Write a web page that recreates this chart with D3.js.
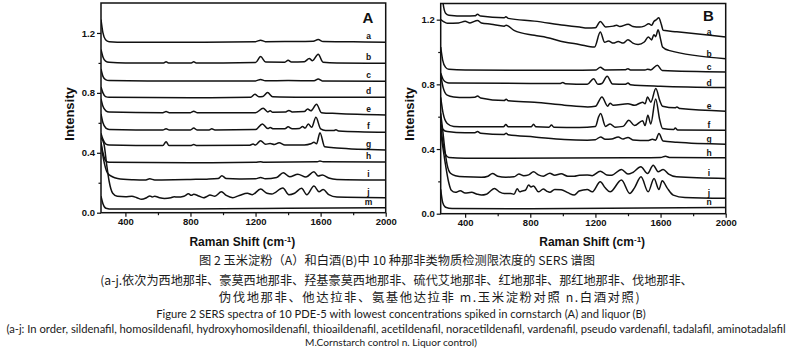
<!DOCTYPE html>
<html><head><meta charset="utf-8">
<script src="https://cdn.jsdelivr.net/npm/d3@7"></script>
<style>body{margin:0;background:#fff;} svg{display:block}</style>
</head><body><svg id="c" width="800" height="349"></svg>
<script>
// ---------- data ----------
const xTicks = [400, 800, 1200, 1600, 2000];
const xMinor = [600, 1000, 1400, 1800];
const yTicks = [0, 0.4, 0.8, 1.2];
const yMinor = [0.2, 0.6, 1.0];
const xDomain = [250, 2000];

const labelsA = ["a","b","c","d","e","f","g","h","i","j","m"];
const labelsB = ["a","b","c","d","e","f","g","h","i","j","n"];

const specA_a = [[250,1.29],[262,1.2],[278,1.155],[300,1.142],[400,1.138],[800,1.138],[1200,1.142],[1231,1.152],[1260,1.142],[1400,1.143],[1555,1.145],[1585,1.156],[1615,1.143],[1800,1.141],[2000,1.138]];
const specA_b = [[250,1.09],[262,1.04],[278,1.012],[300,1.004],[400,1.0],[635,1.0],[650,1.008],[665,1.0],[805,1.0],[820,1.007],[835,1.0],[1000,1.0],[1200,1.003],[1231,1.042],[1262,1.006],[1380,1.005],[1400,1.018],[1420,1.006],[1500,1.008],[1530,1.029],[1550,1.015],[1585,1.058],[1615,1.005],[1700,1.0],[2000,0.998]];
const specA_c = [[250,0.96],[262,0.91],[278,0.889],[300,0.882],[600,0.879],[1200,0.88],[1231,0.89],[1260,0.881],[1400,0.882],[1560,0.881],[1585,0.893],[1610,0.88],[2000,0.878]];
const specA_d = [[250,0.84],[262,0.80],[278,0.775],[300,0.77],[800,0.768],[1170,0.77],[1196,0.791],[1220,0.774],[1245,0.776],[1274,0.802],[1305,0.774],[1500,0.771],[2000,0.77]];
const specA_e = [[250,0.76],[262,0.71],[280,0.68],[300,0.672],[630,0.668],[650,0.675],[670,0.668],[800,0.668],[820,0.677],[840,0.668],[1200,0.668],[1247,0.697],[1275,0.673],[1290,0.68],[1305,0.671],[1385,0.672],[1405,0.683],[1425,0.672],[1500,0.675],[1520,0.693],[1540,0.68],[1575,0.724],[1605,0.668],[1700,0.662],[2000,0.653]];
const specA_f = [[250,0.66],[262,0.60],[280,0.565],[300,0.556],[630,0.552],[650,0.56],[670,0.552],[800,0.552],[820,0.565],[840,0.552],[915,0.552],[931,0.56],[950,0.552],[1200,0.555],[1242,0.593],[1275,0.562],[1290,0.568],[1310,0.56],[1380,0.56],[1400,0.573],[1425,0.56],[1470,0.562],[1489,0.575],[1505,0.565],[1524,0.593],[1545,0.57],[1571,0.637],[1600,0.56],[1630,0.549],[1680,0.548],[1694,0.553],[1710,0.546],[2000,0.537]];
const specA_g = [[250,0.53],[262,0.49],[280,0.458],[300,0.452],[630,0.448],[650,0.474],[668,0.448],[800,0.448],[820,0.455],[840,0.448],[1160,0.45],[1185,0.458],[1200,0.452],[1231,0.481],[1262,0.457],[1290,0.462],[1315,0.455],[1345,0.467],[1380,0.452],[1500,0.452],[1540,0.46],[1559,0.47],[1575,0.46],[1596,0.534],[1625,0.44],[1700,0.432],[2000,0.419]];
const specA_h = [[250,0.47],[262,0.40],[280,0.345],[300,0.336],[800,0.333],[1200,0.336],[1231,0.34],[1250,0.337],[1580,0.34],[1596,0.345],[1615,0.34],[2000,0.338]];
const specA_i = [[250,0.46],[265,0.36],[290,0.265],[320,0.24],[352,0.229],[450,0.22],[520,0.218],[550,0.226],[580,0.219],[700,0.22],[800,0.222],[900,0.224],[970,0.228],[993,0.247],[1020,0.228],[1100,0.225],[1200,0.226],[1231,0.235],[1260,0.226],[1330,0.235],[1370,0.267],[1410,0.24],[1460,0.257],[1510,0.238],[1559,0.274],[1585,0.245],[1610,0.252],[1650,0.232],[1700,0.222],[2000,0.218]];
const specA_j = [[250,0.50],[268,0.46],[285,0.32],[300,0.21],[322,0.13],[350,0.11],[400,0.107],[440,0.11],[470,0.1],[500,0.089],[530,0.1],[550,0.112],[565,0.105],[580,0.11],[610,0.1],[640,0.095],[680,0.1],[700,0.107],[720,0.104],[760,0.11],[788,0.126],[805,0.116],[820,0.123],[850,0.112],[880,0.1],[900,0.108],[920,0.118],[950,0.11],[990,0.14],[1020,0.115],[1060,0.1],[1100,0.115],[1150,0.13],[1180,0.12],[1231,0.158],[1270,0.13],[1300,0.125],[1368,0.165],[1405,0.12],[1440,0.13],[1483,0.163],[1515,0.12],[1559,0.178],[1590,0.14],[1616,0.155],[1650,0.12],[1700,0.104],[2000,0.1]];
const specA_m = [[250,0.11],[262,0.06],[280,0.03],[320,0.024],[800,0.025],[1400,0.03],[2000,0.033]];

const specB_a = [[250,1.45],[262,1.32],[280,1.24],[300,1.228],[400,1.222],[460,1.224],[476,1.233],[495,1.222],[640,1.212],[650,1.218],[665,1.208],[825,1.191],[1009,1.165],[1103,1.154],[1150,1.148],[1200,1.15],[1230,1.189],[1262,1.155],[1310,1.16],[1330,1.165],[1350,1.157],[1401,1.172],[1430,1.158],[1472,1.154],[1500,1.16],[1528,1.175],[1545,1.165],[1560,1.19],[1575,1.2],[1589,1.212],[1605,1.17],[1616,1.134],[1700,1.125],[2000,1.093]];
const specB_b = [[250,1.2],[265,1.19],[290,1.178],[360,1.18],[400,1.19],[430,1.18],[476,1.195],[500,1.18],[560,1.172],[640,1.16],[652,1.165],[700,1.134],[825,1.103],[900,1.09],[1009,1.062],[1100,1.047],[1195,1.031],[1230,1.123],[1257,1.06],[1280,1.068],[1310,1.055],[1340,1.065],[1370,1.055],[1400,1.076],[1430,1.055],[1462,1.047],[1500,1.062],[1525,1.093],[1545,1.075],[1559,1.107],[1570,1.095],[1585,1.138],[1600,1.08],[1612,1.031],[1650,1.01],[2000,0.959]];
const specB_c = [[250,1.03],[262,0.95],[280,0.905],[300,0.893],[400,0.888],[800,0.887],[1200,0.888],[1230,0.905],[1258,0.889],[1385,0.89],[1400,0.897],[1415,0.889],[1505,0.889],[1520,0.894],[1540,0.889],[1580,0.918],[1610,0.886],[2000,0.877]];
const specB_d = [[250,0.87],[265,0.83],[285,0.812],[300,0.809],[800,0.806],[985,0.805],[1000,0.812],[1015,0.804],[1150,0.8],[1189,0.835],[1215,0.8],[1240,0.805],[1272,0.85],[1305,0.802],[1385,0.8],[1400,0.808],[1415,0.798],[1600,0.788],[2000,0.78]];
const specB_e = [[250,0.86],[265,0.78],[290,0.733],[330,0.722],[400,0.718],[460,0.72],[476,0.728],[495,0.716],[640,0.7],[652,0.708],[665,0.698],[825,0.689],[1009,0.671],[1153,0.66],[1200,0.664],[1240,0.722],[1275,0.665],[1290,0.683],[1310,0.67],[1400,0.68],[1440,0.67],[1490,0.69],[1505,0.68],[1520,0.722],[1540,0.69],[1571,0.774],[1595,0.7],[1612,0.665],[1690,0.655],[1700,0.66],[1720,0.65],[2000,0.634]];
const specB_f = [[250,0.72],[265,0.62],[290,0.558],[330,0.54],[400,0.537],[635,0.537],[650,0.551],[665,0.537],[805,0.537],[820,0.553],[835,0.537],[915,0.535],[930,0.548],[945,0.535],[1100,0.533],[1200,0.54],[1220,0.6],[1232,0.619],[1262,0.54],[1290,0.555],[1320,0.535],[1370,0.54],[1405,0.578],[1440,0.545],[1490,0.575],[1505,0.545],[1522,0.609],[1540,0.555],[1570,0.71],[1595,0.58],[1612,0.527],[1680,0.52],[1690,0.53],[1705,0.518],[2000,0.516]];
const specB_g = [[250,0.56],[265,0.52],[290,0.508],[400,0.5],[460,0.5],[476,0.508],[495,0.498],[640,0.49],[652,0.498],[665,0.488],[825,0.475],[1009,0.459],[1150,0.455],[1200,0.458],[1232,0.475],[1260,0.46],[1300,0.462],[1340,0.474],[1370,0.462],[1400,0.472],[1430,0.456],[1520,0.452],[1550,0.46],[1570,0.455],[1590,0.496],[1615,0.45],[1700,0.442],[2000,0.43]];
const specB_h = [[250,0.55],[262,0.45],[280,0.365],[300,0.348],[400,0.343],[1000,0.344],[1400,0.346],[1600,0.348],[1630,0.355],[1660,0.347],[2000,0.346]];
const specB_i = [[250,0.62],[262,0.52],[275,0.4],[290,0.3],[310,0.25],[340,0.235],[400,0.228],[500,0.225],[540,0.232],[568,0.248],[600,0.232],[650,0.226],[700,0.228],[730,0.245],[760,0.235],[790,0.24],[820,0.259],[850,0.24],[880,0.232],[920,0.25],[950,0.238],[990,0.247],[1030,0.232],[1070,0.232],[1100,0.238],[1150,0.24],[1180,0.235],[1230,0.263],[1270,0.24],[1300,0.238],[1360,0.274],[1400,0.245],[1430,0.255],[1479,0.29],[1520,0.248],[1555,0.3],[1585,0.26],[1616,0.274],[1650,0.245],[1698,0.228],[2000,0.218]];
const specB_j = [[250,0.5],[262,0.42],[280,0.3],[300,0.19],[315,0.145],[340,0.132],[370,0.142],[400,0.128],[440,0.132],[470,0.122],[500,0.115],[530,0.12],[550,0.135],[580,0.156],[610,0.135],[640,0.125],[680,0.125],[700,0.12],[720,0.155],[735,0.135],[750,0.14],[770,0.145],[790,0.177],[805,0.165],[820,0.172],[850,0.135],[880,0.152],[900,0.14],[920,0.132],[950,0.15],[990,0.148],[1030,0.13],[1070,0.115],[1100,0.14],[1150,0.15],[1180,0.135],[1230,0.198],[1260,0.16],[1290,0.135],[1360,0.208],[1411,0.125],[1440,0.16],[1480,0.228],[1524,0.135],[1560,0.218],[1590,0.15],[1610,0.204],[1640,0.16],[1678,0.115],[1750,0.1],[2000,0.095]];
const specB_n = [[250,0.15],[262,0.07],[280,0.04],[320,0.032],[800,0.03],[1500,0.035],[2000,0.039]];

const captionLines = [
  "图 2  玉米淀粉（A）和白酒(B)中 10 种那非类物质检测限浓度的 SERS 谱图",
  "(a-j.依次为西地那非、豪莫西地那非、羟基豪莫西地那非、硫代艾地那非、红地那非、那红地那非、伐地那非、",
  "伪伐地那非、他达拉非、氨基他达拉非  m.玉米淀粉对照  n.白酒对照)",
  "Figure 2 SERS spectra of 10 PDE-5 with lowest concentrations spiked in cornstarch (A) and liquor (B)",
  "(a-j: In order, sildenafil, homosildenafil, hydroxyhomosildenafil, thioaildenafil, acetildenafil, noracetildenafil, vardenafil, pseudo vardenafil, tadalafil, aminotadalafil",
  "M.Cornstarch control n. Liquor control)"
];

// ---------- layout ----------
const svg = d3.select("#c");
const FONT = "'Liberation Sans', Arial, sans-serif";

const panels = [
  {id:"A", left:101, right:385.7, top:3, bottom:212.7, yMax:1.4,
   series:[specA_a,specA_b,specA_c,specA_d,specA_e,specA_f,specA_g,specA_h,specA_i,specA_j,specA_m],
   labels:labelsA, labelX:368.5, labelOff:6, letterX:368, letterY:22.5, ytitleX:69},
  {id:"B", left:440.7, right:725.7, top:3.5, bottom:213.7, yMax:1.3,
   series:[specB_a,specB_b,specB_c,specB_d,specB_e,specB_f,specB_g,specB_h,specB_i,specB_j,specB_n],
   labels:labelsB, labelX:709, labelOff:5, letterX:708.5, letterY:21, ytitleX:409}
];

panels.forEach(p => {
  const x = d3.scaleLinear().domain(xDomain).range([p.left, p.right]);
  const y = d3.scaleLinear().domain([0, p.yMax]).range([p.bottom, p.top]);
  const g = svg.append("g");

  const clipId = "clip" + p.id;
  svg.append("clipPath").attr("id", clipId).append("rect")
    .attr("x", p.left).attr("y", p.top).attr("width", p.right - p.left).attr("height", p.bottom - p.top);

  const line = d3.line().x(d => x(d[0])).y(d => y(d[1])).curve(d3.curveMonotoneX);
  g.append("g").attr("clip-path", `url(#${clipId})`)
    .selectAll("path").data(p.series).join("path")
    .attr("d", line).attr("fill", "none").attr("stroke", "#111")
    .attr("stroke-width", 1.5).attr("stroke-linejoin", "round");

  // curve labels
  g.selectAll("text.lbl").data(p.series).join("text").attr("class", "lbl")
    .attr("x", p.labelX)
    .attr("y", d => y(d[d.length - 1][1]) - p.labelOff)
    .attr("text-anchor", "middle").attr("dominant-baseline", "central")
    .attr("font-family", FONT).attr("font-weight", "bold").attr("font-size", 8.5)
    .attr("fill", "#111")
    .text((d, i) => p.labels[i]);

  // frame
  g.append("rect").attr("x", p.left).attr("y", p.top)
    .attr("width", p.right - p.left).attr("height", p.bottom - p.top)
    .attr("fill", "none").attr("stroke", "#111").attr("stroke-width", 1.5);

  // x axis
  const xa = g.append("g").attr("transform", `translate(0,${p.bottom})`)
    .call(d3.axisBottom(x).tickValues(xTicks).tickSize(4).tickPadding(2).tickFormat(d3.format("d")));
  const xm = g.append("g").attr("transform", `translate(0,${p.bottom})`)
    .call(d3.axisBottom(x).tickValues(xMinor).tickSize(2.5).tickFormat(""));
  // y axis
  const ya = g.append("g").attr("transform", `translate(${p.left},0)`)
    .call(d3.axisLeft(y).tickValues(yTicks).tickSize(4).tickPadding(2).tickFormat(d3.format(".1f")));
  const ym = g.append("g").attr("transform", `translate(${p.left},0)`)
    .call(d3.axisLeft(y).tickValues(yMinor).tickSize(2.5).tickFormat(""));
  [xa, xm, ya, ym].forEach(a => {
    a.select(".domain").remove();
    a.selectAll("line").attr("stroke", "#111").attr("stroke-width", 1.2);
    a.selectAll("text").attr("font-family", FONT).attr("font-weight", "bold")
      .attr("font-size", 9.5).attr("fill", "#111");
  });

  // panel letter
  g.append("text").attr("x", p.letterX).attr("y", p.letterY)
    .attr("text-anchor", "middle").attr("font-family", FONT).attr("font-weight", "bold")
    .attr("font-size", 15).attr("fill", "#111").text(p.id);

  // y title
  g.append("text").attr("transform", `translate(${p.ytitleX},114) rotate(-90)`)
    .attr("text-anchor", "middle").attr("dominant-baseline", "central")
    .attr("font-family", FONT).attr("font-weight", "bold").attr("font-size", 13)
    .attr("fill", "#111").text("Intensity");

  // x title
  const xt = g.append("text").attr("x", (p.left + p.right) / 2 + (p.id === "A" ? -1 : 9)).attr("y", 246)
    .attr("text-anchor", "middle").attr("font-family", FONT).attr("font-weight", "bold")
    .attr("font-size", 12).attr("fill", "#111");
  xt.append("tspan").text("Raman Shift (cm");
  xt.append("tspan").attr("dy", -4.5).attr("font-size", 8).text("-1");
  xt.append("tspan").attr("dy", 4.5).text(")");
});

// ---------- caption (size fitted to the reference line widths) ----------
const capPos = [
  {cx:397, w:396, y:260, cjk:true, fs:12},
  {cx:396.5, w:593, y:279.5, cjk:true, fs:12},
  {cx:430, w:424, y:297, cjk:true, fs:12},
  {cx:401, w:490, y:313.5, cjk:false, fs:11.5},
  {cx:396, w:780, y:328.5, cjk:false, fs:11.5},
  {cx:391, w:172, y:342, cjk:false, fs:11}
];
svg.selectAll("text.cap").data(captionLines).join("text").attr("class", "cap")
  .attr("x", (d, i) => capPos[i].cx)
  .attr("y", (d, i) => capPos[i].y)
  .attr("text-anchor", "middle")
  .attr("dominant-baseline", "central")
  .attr("font-family", (d, i) => capPos[i].cjk ? "'Noto Sans CJK SC', sans-serif" : "Lato, 'Open Sans', sans-serif")
  .attr("font-size", (d, i) => capPos[i].fs)
  .attr("font-weight", 400)
  .attr("fill", "#1a1a1a")
  .text(d => d)
  .each(function(d, i) {
    const c = capPos[i];
    const w0 = this.getComputedTextLength();
    if (w0 > 0) {
      const fs = Math.min(c.fs * c.w / w0, c.fs * 1.03);
      this.setAttribute("font-size", fs);
      const w1 = this.getComputedTextLength();
      if (w1 < c.w - 4) {
        this.setAttribute("letter-spacing", ((c.w - w1) / (d.length - 1)).toFixed(2));
      }
    }
  });
</script>
</body></html>
